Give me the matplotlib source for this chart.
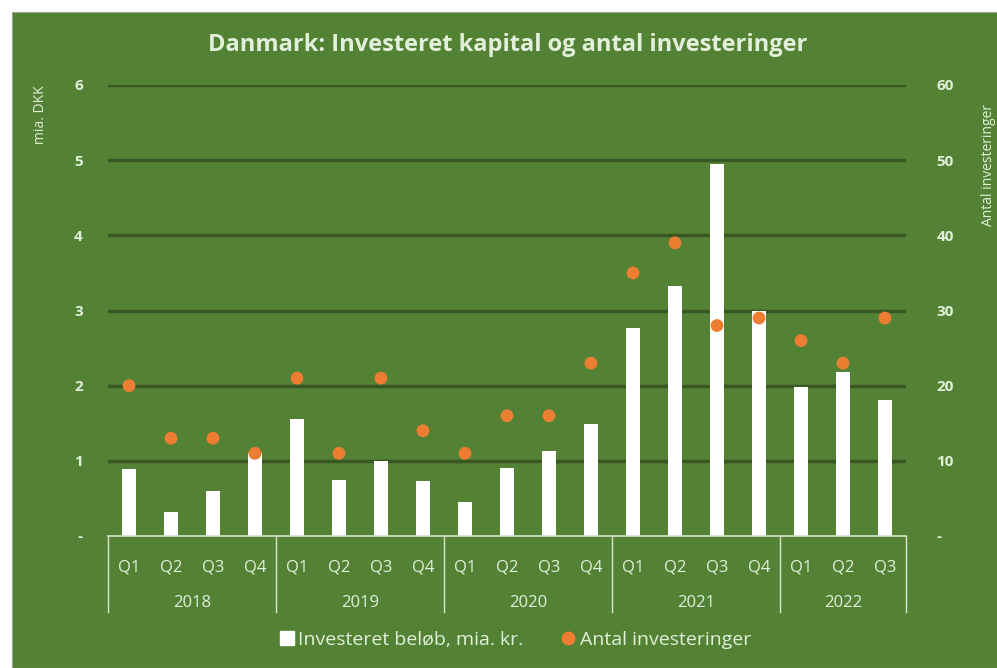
import matplotlib
matplotlib.use("Agg")
import matplotlib.pyplot as plt
from matplotlib.patches import Rectangle
from matplotlib.lines import Line2D
import matplotlib.transforms as mtransforms
from matplotlib import font_manager

years = ["2018", "2019", "2020", "2021", "2022"]
quarters_per_year = [4, 4, 4, 4, 3]
quarter_labels = ["Q1", "Q2", "Q3", "Q4"] * 4 + ["Q1", "Q2", "Q3"]
invested = [0.89, 0.32, 0.60, 1.10,
            1.56, 0.74, 1.00, 0.73,
            0.45, 0.90, 1.13, 1.49,
            2.77, 3.32, 4.95, 3.00,
            1.98, 2.18, 1.81]
count = [20, 13, 13, 11,
         21, 11, 21, 14,
         11, 16, 16, 23,
         35, 39, 28, 29,
         26, 23, 29]
left_ticks = [0, 1, 2, 3, 4, 5, 6]
left_ticklabels = ["-", "1", "2", "3", "4", "5", "6"]
right_ticks = [0, 10, 20, 30, 40, 50, 60]
right_ticklabels = ["-", "10", "20", "30", "40", "50", "60"]

avail = {f.name for f in font_manager.fontManager.ttflist}
fam = [f for f in ["Liberation Sans Narrow", "Open Sans", "DejaVu Sans"] if f in avail]
plt.rcParams['font.family'] = fam

GREEN = "#548235"
GRID = "#385723"
TXT = "#e2efda"
ORANGE = "#ED7D31"

fig = plt.figure(figsize=(9.97, 6.68), dpi=100)
fig.patch.set_facecolor("white")
bg = Rectangle((12/997, 0), 1, 1 - 12/668, transform=fig.transFigure,
               facecolor=GREEN, edgecolor="#9aa58f", lw=0.8, zorder=-10)
fig.patches.append(bg)

ax = fig.add_axes([108/997, 1 - 536/668, (906 - 108)/997, (536 - 85)/668])
ax.set_facecolor("none")
n = len(invested)
x = list(range(n))
ax.bar(x, invested, width=0.34, color="white", zorder=3)
ax.set_xlim(-0.5, n - 0.5)
ax.set_ylim(0, 6)
ax.set_yticks(left_ticks)
ax.set_yticklabels(left_ticklabels)
for v in left_ticks[1:]:
    ax.axhline(v, color=GRID, lw=2.5, zorder=1)
for s in ax.spines.values():
    s.set_visible(False)
ax.tick_params(axis="y", length=0, pad=18, labelcolor=TXT, labelsize=11)
for lab in ax.get_yticklabels():
    lab.set_fontweight("bold")
ax.set_xticks(x)
ax.set_xticklabels(quarter_labels)
ax.tick_params(axis="x", length=0, pad=17, labelcolor=TXT, labelsize=12)

ax2 = ax.twinx()
ax2.set_ylim(0, 60)
ax2.scatter(x, count, s=85, color=ORANGE, zorder=4, edgecolors="none")
ax2.set_yticks(right_ticks)
ax2.set_yticklabels(right_ticklabels)
for s in ax2.spines.values():
    s.set_visible(False)
ax2.tick_params(axis="y", length=0, pad=22, labelcolor=TXT, labelsize=11)
for lab in ax2.get_yticklabels():
    lab.set_fontweight("bold")

# category axis box
trans = mtransforms.blended_transform_factory(ax.transData, ax.transAxes)
ax.plot([-0.5, n - 0.5], [0, 0], color="#d9e5cf", lw=1.2, transform=trans, clip_on=False, zorder=5)
bounds = [-0.5]
for q in quarters_per_year:
    bounds.append(bounds[-1] + q)
ybot = -(612 - 536) / 451
for b in bounds:
    ax.plot([b, b], [0, ybot], color="#d9e5cf", lw=1.0, transform=trans, clip_on=False)
for i, yr in enumerate(years):
    ax.text((bounds[i] + bounds[i + 1]) / 2, -(603 - 536) / 451, yr, transform=trans,
            ha="center", va="center", color=TXT, fontsize=12)

fig.text(508/997, 1 - 45/668, "Danmark: Investeret kapital og antal investeringer",
         ha="center", va="center", color=TXT, fontsize=17, fontweight="bold")
fig.text(40/997, 1 - 115/668, "mia. DKK", rotation=90, ha="center", va="center",
         color=TXT, fontsize=10)
fig.text(988/997, 1 - 165/668, "Antal investeringer", rotation=90, ha="center", va="center",
         color=TXT, fontsize=10)

handles = [Line2D([], [], marker="s", ls="none", color="white", markersize=10),
           Line2D([], [], marker="o", ls="none", color=ORANGE, markersize=9)]
leg = fig.legend(handles, ["Investeret beløb, mia. kr.", "Antal investeringer"],
                 loc="center", bbox_to_anchor=(514/997, 1 - 640/668), ncol=2, frameon=False,
                 fontsize=14, handletextpad=0.1, columnspacing=1.8, handlelength=1.0)
for t in leg.get_texts():
    t.set_color(TXT)

fig.savefig("out.png", dpi=100, facecolor=fig.get_facecolor())
